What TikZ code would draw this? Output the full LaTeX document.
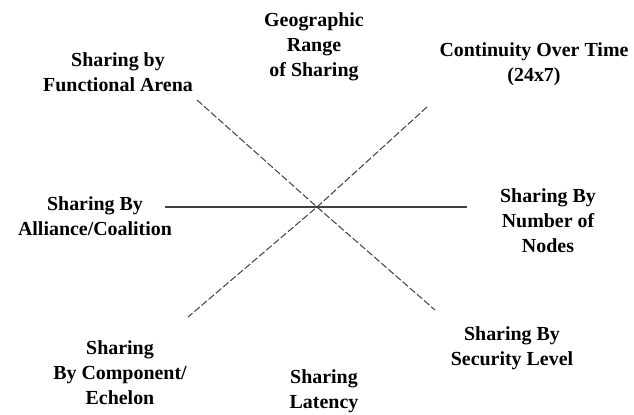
\documentclass[tikz,border=0pt]{standalone}
\usepackage{fontspec}
\setmainfont{Liberation Serif}
\begin{document}
\begin{tikzpicture}[x=1bp,y=-1bp,
  lbl/.style={align=center,inner sep=0pt,font=\fontsize{20}{25}\selectfont\bfseries},
  axis/.style={draw=black!75,line width=1.4pt},
  diag/.style={draw=black!75,line width=1pt,dash pattern=on 7pt off 2.5pt}]
\useasboundingbox[fill=white] (0,0) rectangle (634,414);
% labels
\node[lbl] (geo) at (314,47) {Geographic\\Range\\of Sharing};
\node[lbl] (func) at (118,72) {Sharing by\\Functional Arena};
\node[lbl] (cont) at (534,64) {Continuity Over Time\\(24x7)};
\node[lbl] (alli) at (95,216) {Sharing By\\Alliance/Coalition};
\node[lbl] (numb) at (548,221) {Sharing By\\Number of\\Nodes};
\node[lbl] (comp) at (120,373) {Sharing\\By Component/\\Echelon};
\node[lbl] (late) at (324,391) {Sharing\\Latency};
\node[lbl] (secu) at (512,348) {Sharing By\\Security Level};
% axes
\coordinate (c) at (317,207);
\coordinate (hl) at (165,207);
\coordinate (hr) at (467,207);
\coordinate (ul) at (197,100);
\coordinate (lr) at (435,310);
\coordinate (ur) at (427,107);
\coordinate (ll) at (188,317);
\draw[axis] (hl) -- (c) -- (hr);
\draw[diag] (ul) -- (c) -- (lr);
\draw[diag] (ur) -- (c) -- (ll);
\end{tikzpicture}
\end{document}
